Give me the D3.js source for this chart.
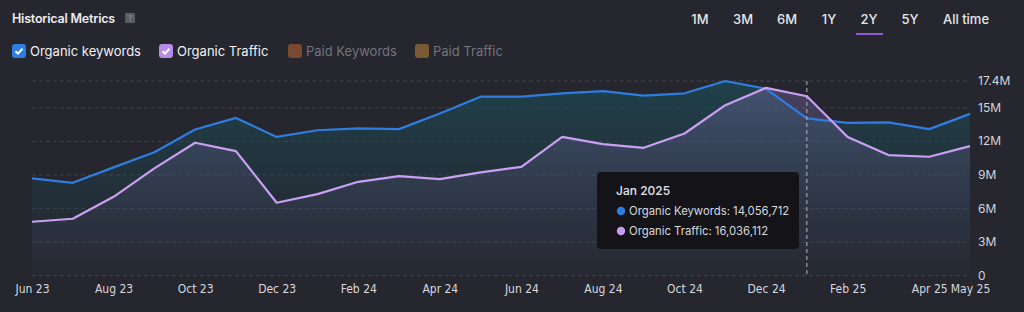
<head>
    <style>
        body { margin: 0; background: #25262e; }
        text { font-family: Inter, "Noto Sans", sans-serif; }
    </style>
    <script src="https://d3js.org/d3.v7.min.js"></script>
</head>

<body>
    <svg id="chart" width="1024" height="312"></svg>

    <script>
        // data (Jun 2023 .. May 2025)
        var months = ['Jun 23', 'Jul 23', 'Aug 23', 'Sep 23', 'Oct 23', 'Nov 23', 'Dec 23',
                      'Jan 24', 'Feb 24', 'Mar 24', 'Apr 24', 'May 24', 'Jun 24', 'Jul 24',
                      'Aug 24', 'Sep 24', 'Oct 24', 'Nov 24', 'Dec 24', 'Jan 25', 'Feb 25',
                      'Mar 25', 'Apr 25', 'May 25']
        var organicKeywords = [8.70, 8.30, 9.68, 11.04, 13.07, 14.10, 12.40, 13.00, 13.16, 13.10,
                               14.50, 16.00, 16.00, 16.30, 16.50, 16.10, 16.30, 17.40, 16.70,
                               14.056712, 13.66, 13.70, 13.10, 14.46]
        var organicTraffic = [4.82, 5.09, 7.05, 9.59, 11.88, 11.13, 6.52, 7.29, 8.39, 8.90,
                              8.63, 9.23, 9.73, 12.40, 11.76, 11.43, 12.71, 15.24, 16.79,
                              16.036112, 12.40, 10.78, 10.63, 11.58]
        var xTickLabels = ['Jun 23', 'Aug 23', 'Oct 23', 'Dec 23', 'Feb 24', 'Apr 24', 'Jun 24',
                           'Aug 24', 'Oct 24', 'Dec 24', 'Feb 25', 'Apr 25', 'May 25']
        var yTicks = [0, 3, 6, 9, 12, 15, 17.4]
        var ranges = ['1M', '3M', '6M', '1Y', '2Y', '5Y', 'All time']
        var legendItems = [
            { name: 'Organic keywords', color: '#2f7de1', on: true },
            { name: 'Organic Traffic', color: '#b98ae6', on: true },
            { name: 'Paid Keywords', color: '#7a4a30', on: false },
            { name: 'Paid Traffic', color: '#7a5a33', on: false }
        ]
        var hoverIdx = 19

        const svg = d3.select('#chart')

        // header
        svg.append('text').attr('x', 12).attr('y', 23)
            .attr('fill', '#ececf0').attr('font-size', 12.5).attr('font-weight', 600)
            .attr('letter-spacing', -0.2)
            .text('Historical Metrics')
        svg.append('rect').attr('x', 125).attr('y', 13).attr('width', 10).attr('height', 10)
            .attr('rx', 1).attr('fill', '#5b5c64')
        svg.append('text').attr('x', 130).attr('y', 21).attr('text-anchor', 'middle')
            .attr('fill', '#9a9aa2').attr('font-size', 7).text('?')

        let rangeX = [700, 743, 787, 829, 869, 910, 966]
        ranges.forEach((r, i) => {
            svg.append('text').attr('x', rangeX[i]).attr('y', 24).attr('text-anchor', 'middle')
                .attr('fill', '#e6e6ea').attr('font-size', 13).attr('font-weight', 500).text(r)
        })
        svg.append('rect').attr('x', 856).attr('y', 33).attr('width', 27).attr('height', 2)
            .attr('fill', '#8e5bd0')

        // legend
        let legX = [12, 159, 288, 415]
        legendItems.forEach((d, i) => {
            let g = svg.append('g').attr('transform', `translate(${legX[i]},44)`)
            g.append('rect').attr('width', 14).attr('height', 14).attr('rx', 3)
                .attr('fill', d.color)
            if (d.on) {
                g.append('path').attr('d', 'M3.5,7.2 L6,9.6 L10.5,4.8')
                    .attr('fill', 'none').attr('stroke', 'white').attr('stroke-width', 2)
            }
            g.append('text').attr('x', 18).attr('y', 12)
                .attr('fill', d.on ? '#f0f0f4' : '#74747c').attr('font-size', 13)
                .text(d.name)
        })

        // chart area
        let plotLeft = 32, plotRight = 970, plotTop = 81, plotBottom = 275.7

        let x = d3.scalePoint().domain(months).range([plotLeft, plotRight])
        let y = d3.scaleLinear().domain([0, 17.4]).range([plotBottom, plotTop])

        const defs = svg.append('defs')
        const gk = defs.append('linearGradient').attr('id', 'gk').attr('x1', 0).attr('x2', 0).attr('y1', 0).attr('y2', 1)
        gk.append('stop').attr('offset', '0%').attr('stop-color', '#1e4a55').attr('stop-opacity', 0.75)
        gk.append('stop').attr('offset', '100%').attr('stop-color', '#1e3a45').attr('stop-opacity', 0.05)
        const gt = defs.append('linearGradient').attr('id', 'gt').attr('x1', 0).attr('x2', 0).attr('y1', 0).attr('y2', 1)
        gt.append('stop').attr('offset', '0%').attr('stop-color', '#7a6aa8').attr('stop-opacity', 0.4)
        gt.append('stop').attr('offset', '100%').attr('stop-color', '#4a5270').attr('stop-opacity', 0.05)

        // grid
        svg.append('g')
            .selectAll('line')
            .data(yTicks)
            .join('line')
                .attr('x1', plotLeft).attr('x2', plotRight)
                .attr('y1', d => y(d)).attr('y2', d => y(d))
                .attr('stroke', '#44454e').attr('stroke-dasharray', '4,3')

        let area = (vals) => d3.area()
            .x((d, i) => x(months[i]))
            .y0(plotBottom)
            .y1(d => y(d))(vals)
        let line = (vals) => d3.line()
            .x((d, i) => x(months[i]))
            .y(d => y(d))(vals)

        svg.append('path').attr('d', area(organicKeywords)).attr('fill', 'url(#gk)')
        svg.append('path').attr('d', area(organicTraffic)).attr('fill', 'url(#gt)')

        svg.append('path').attr('d', line(organicKeywords)).attr('fill', 'none')
            .attr('stroke', '#2f7de1').attr('stroke-width', 2.2).attr('stroke-linejoin', 'round')
        svg.append('path').attr('d', line(organicTraffic)).attr('fill', 'none')
            .attr('stroke', '#caa0f2').attr('stroke-width', 2.2).attr('stroke-linejoin', 'round')

        // hover line
        svg.append('line')
            .attr('x1', x(months[hoverIdx])).attr('x2', x(months[hoverIdx]))
            .attr('y1', plotTop).attr('y2', plotBottom)
            .attr('stroke', '#b8b8c0').attr('stroke-dasharray', '4,3')

        // y axis labels
        svg.append('g')
            .selectAll('text')
            .data(yTicks)
            .join('text')
                .attr('x', 978)
                .attr('y', d => y(d) + 4)
                .attr('fill', '#d4d4da').attr('font-size', 12)
                .text(d => d === 0 ? '0' : d + 'M')

        // x axis
        var xAxis = svg.append('g')
            .attr('transform', `translate(0,${plotBottom})`)
            .call(d3.axisBottom(x).tickValues(xTickLabels).tickSize(0).tickPadding(9))
        xAxis.select('.domain').remove()
        xAxis.selectAll('text')
            .style('fill', '#d8d8de')
            .style('font-size', '12px')
            .style('font-family', '"Liberation Sans Narrow", "DejaVu Sans Condensed", sans-serif')

        // tooltip
        let tt = svg.append('g').attr('transform', 'translate(597,172)')
        tt.append('rect').attr('width', 202).attr('height', 77).attr('rx', 4).attr('fill', '#141318')
        tt.append('text').attr('x', 19).attr('y', 23).attr('fill', '#e4e4e8')
            .attr('font-size', 12).attr('font-weight', 500).text('Jan 2025')
        let fmt = d3.format(',')
        let rows = [
            { label: 'Organic Keywords', value: organicKeywords[hoverIdx], color: '#2f7de1' },
            { label: 'Organic Traffic', value: organicTraffic[hoverIdx], color: '#c89af0' }
        ]
        rows.forEach((r, i) => {
            tt.append('circle').attr('cx', 24).attr('cy', 39 + i * 20).attr('r', 4.2).attr('fill', r.color)
            tt.append('text').attr('x', 32).attr('y', 43 + i * 20).attr('fill', '#d8d8de')
                .attr('font-size', 11.3).text(r.label + ':  ' + fmt(Math.round(r.value * 1e6)))
        })
    </script>
</body>
